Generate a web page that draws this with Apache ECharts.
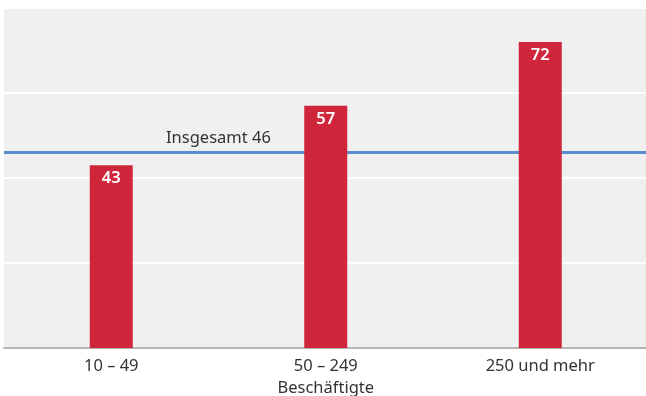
<!DOCTYPE html>
<html><head><meta charset="utf-8">
<script src="https://cdn.jsdelivr.net/npm/echarts@6/dist/echarts.min.js"></script>
<style>html,body{margin:0;padding:0;background:#fff}#c{width:646px;height:396px}</style>
</head><body><div id="c"></div>
<script>
const categories = ['10 – 49', '50 – 249', '250 und mehr'];
const values = [43, 57, 72];
const totalValue = 46;
const totalLabel = 'Insgesamt';
const axisName = 'Beschäftigte';

const chart = echarts.init(document.getElementById('c'), null, {renderer: 'canvas'});
const font = '"Noto Sans", "Open Sans", sans-serif';
chart.setOption({
  animation: false,
  grid: {left: 4, top: 8, width: 643.5, bottom: 48, show: true, backgroundColor: '#f0f0f0', borderWidth: 0, outerBoundsMode: 'none', containLabel: false},
  xAxis: {
    type: 'category', data: categories,
    axisLine: {lineStyle: {color: '#b5b5b5', width: 2}},
    axisTick: {show: false},
    axisLabel: {color: '#333', fontSize: 16.5, fontFamily: font, margin: 10},
    name: axisName, nameLocation: 'middle', nameGap: 32,
    nameTextStyle: {color: '#333', fontSize: 16.5, fontFamily: font}
  },
  yAxis: {
    type: 'value', min: 0, max: 80, interval: 20,
    axisLabel: {show: false}, axisLine: {show: false}, axisTick: {show: false},
    splitLine: {lineStyle: {color: '#ffffff', width: 2}}
  },
  series: [
    {
      type: 'line', data: [], z: 1, silent: true,
      markLine: {
        symbol: 'none', silent: true, z: 1,
        lineStyle: {color: '#5b8ecd', width: 3, type: 'solid'},
        label: {
          position: 'insideStartTop', distance: 6,
          formatter: p => totalLabel + ' ' + p.value,
          color: '#333', fontSize: 16.5, fontFamily: font,
          padding: [0, 0, 0, 156]
        },
        data: [{yAxis: totalValue}]
      }
    },
    {
      type: 'bar', data: values, z: 3, barWidth: 43,
      itemStyle: {color: '#d0263b'},
      label: {show: true, position: 'insideTop', distance: 5, color: '#fff', fontSize: 16.5, fontWeight: 600, fontFamily: font}
    }
  ]
});
</script></body></html>
